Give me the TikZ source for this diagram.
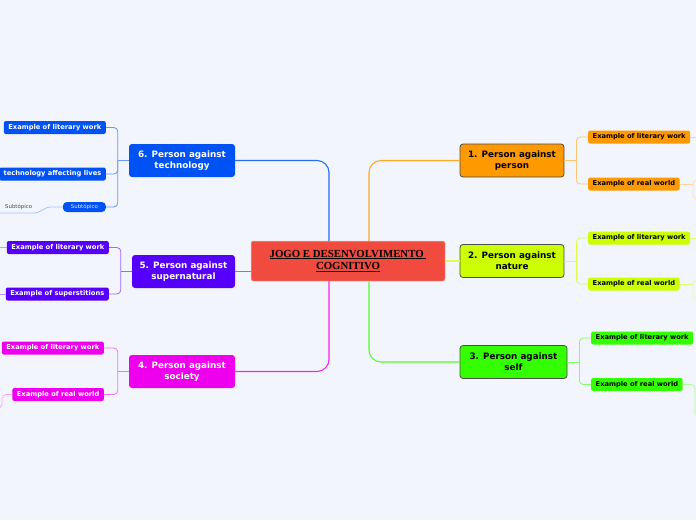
\documentclass[tikz,border=0pt]{standalone}
\usepackage{fontspec}
\setmainfont{DejaVu Sans}
\newfontfamily\titlefont{Liberation Serif}
\usepackage{tikz}
\usetikzlibrary{calc,positioning}
\usepackage{xcolor}
\definecolor{mapbg}{RGB}{243,245,253}
\definecolor{rootred}{RGB}{240,75,62}
\definecolor{personorange}{RGB}{255,153,0}
\definecolor{naturelime}{RGB}{204,255,0}
\definecolor{selfgreen}{RGB}{51,255,0}
\definecolor{societymag}{RGB}{238,0,238}
\definecolor{superpurple}{RGB}{85,0,255}
\definecolor{techblue}{RGB}{0,82,245}
\tikzset{
  root/.style={rounded corners=2pt,fill=rootred,draw=rootred!40!white,line width=0.5pt,
    minimum width=194pt,minimum height=40pt,inner sep=0pt,align=center,
    font=\titlefont\bfseries\fontsize{10.8}{13}\selectfont},
  topic/.style={rounded corners=3pt,minimum width=104pt,minimum height=33pt,inner sep=0pt,
    align=center,font=\bfseries\fontsize{8.8}{11}\selectfont},
  darktopic/.style={topic,draw=black!70,line width=0.8pt,text=black},
  lighttopic/.style={topic,text=white},
  subbox/.style={rounded corners=2pt,minimum height=13pt,inner ysep=0pt,inner xsep=4.5pt,
    font=\bfseries\fontsize{6.7}{8}\selectfont},
  branch/.style={line width=1.1pt,rounded corners=12pt},
  twig/.style={line width=0.8pt,rounded corners=4pt}
}

\begin{document}
\begin{tikzpicture}[scale=1.0,x=1pt,y=-1pt]
  \fill[mapbg] (0,0) rectangle (696,520);
  \useasboundingbox (0,0) rectangle (696,520);
  \clip (0,0) rectangle (696,520);

  \node[root] (root) at (348,261) {\underline{JOGO E DESENVOLVIMENTO\ }\\\underline{COGNITIVO}};

  \node[darktopic,fill=personorange] (t1) at (512,160.5) {1. Person against\\person};
  \node[darktopic,fill=naturelime] (t2) at (512,261) {2. Person against\\nature};
  \node[darktopic,fill=selfgreen,minimum width=107pt] (t3) at (513.5,362) {3. Person against\\self};
  \node[lighttopic,fill=societymag,minimum width=106pt] (t4) at (182,371.5) {4. Person against\\society};
  \node[lighttopic,fill=superpurple,minimum width=103pt] (t5) at (183.5,271.5) {5. Person against\\supernatural};
  \node[lighttopic,fill=techblue,minimum width=106pt] (t6) at (182,160.5) {6. Person against\\technology};

  \draw[branch,personorange!85] ([xshift=21pt]root.north) |- (t1.west);
  \draw[branch,naturelime!70] (root.east) -- (t2.west);
  \draw[branch,selfgreen!85] ([xshift=21pt]root.south) |- (t3.west);
  \draw[branch,societymag!85] ([xshift=-19pt]root.south) |- (t4.east);
  \draw[branch,superpurple!60] (t5.east) -- (t5.east -| root.west);
  \draw[branch,techblue!85] ([xshift=-19pt]root.north) |- (t6.east);

  % person
  \node[subbox,fill=personorange,anchor=west] (s11) at (588,137) {Example of literary work};
  \node[subbox,fill=personorange,anchor=west] (s12) at (588,184) {Example of real world};
  \draw[twig,personorange!55] (t1.east) -- ++(12,0) coordinate (j1);
  \draw[twig,personorange!55] (j1) |- (s11.west);
  \draw[twig,personorange!55] (j1) |- (s12.west);
  \coordinate (e11) at (696,137);
  \coordinate (e12) at (693,184);
  \draw[twig,personorange!40] (s11.east) -- (e11);
  \draw[twig,personorange!40] (s12.east) -- (e12);
  \draw[twig,personorange!30] (696,180) -- (693,180) -- (693,199) -- (696,199);

  % nature
  \node[subbox,fill=naturelime,anchor=west] (s21) at (588,238) {Example of literary work};
  \node[subbox,fill=naturelime,anchor=west] (s22) at (588,284) {Example of real world};
  \draw[twig,naturelime!70] (t2.east) -- ++(12,0) coordinate (j2);
  \draw[twig,naturelime!70] (j2) |- (s21.west);
  \draw[twig,naturelime!70] (j2) |- (s22.west);
  \coordinate (e21) at (696,238);
  \coordinate (e22) at (693,284);
  \draw[twig,naturelime!55] (s21.east) -- (e21);
  \draw[twig,naturelime!55] (s22.east) -- (e22);
  \draw[twig,naturelime!40] (696,280) -- (693,280) -- (693,300) -- (696,300);

  % self
  \node[subbox,fill=selfgreen,anchor=west] (s31) at (591,338) {Example of literary work};
  \node[subbox,fill=selfgreen,anchor=west] (s32) at (591,384.5) {Example of real world};
  \draw[twig,selfgreen!60] (t3.east) -- ++(12,0) coordinate (j3);
  \draw[twig,selfgreen!60] (j3) |- (s31.west);
  \draw[twig,selfgreen!60] (j3) |- (s32.west);
  \coordinate (e32) at (695,415);
  \draw[twig,selfgreen!40] (s32.east) -| (e32);

  % society
  \node[subbox,fill=societymag,text=white,anchor=east] (s41) at (104,348) {Example of literary work};
  \node[subbox,fill=societymag,text=white,anchor=east] (s42) at (104,394.5) {Example of real world};
  \draw[twig,societymag!55] (t4.west) -- ++(-11,0) coordinate (j4);
  \draw[twig,societymag!55] (j4) |- (s41.east);
  \draw[twig,societymag!55] (j4) |- (s42.east);
  \coordinate (e42) at (0,408);
  \draw[twig,societymag!35] (s42.west) -- (2,394.5) |- (e42);

  % supernatural
  \node[subbox,fill=superpurple,text=white,anchor=east] (s51) at (109,247.5) {Example of literary work};
  \node[subbox,fill=superpurple,text=white,anchor=east] (s52) at (109,294) {Example of superstitions};
  \draw[twig,superpurple!60] (t5.west) -- ++(-11,0) coordinate (j5);
  \draw[twig,superpurple!60] (j5) |- (s51.east);
  \draw[twig,superpurple!60] (j5) |- (s52.east);
  \coordinate (e51) at (0,247.5);
  \coordinate (e52) at (0,294);
  \draw[twig,superpurple!40] (s51.west) -- (e51);
  \draw[twig,superpurple!40] (s52.west) -- (e52);

  % technology
  \node[subbox,fill=techblue,text=white,anchor=east] (s61) at (106,127.5) {Example of literary work};
  \node[subbox,fill=techblue,text=white,anchor=east] (s62) at (106,174) {technology affecting lives};
  \node[subbox,fill=techblue,text=white!85!techblue,anchor=east,minimum height=10pt,inner xsep=8pt,
    rounded corners=4pt,font=\fontsize{5.4}{6}\selectfont] (s63) at (106,207) {Subtópico};
  \draw[twig,techblue!60] (t6.west) -- ++(-11,0) coordinate (j6);
  \draw[twig,techblue!60] (j6) |- (s61.east);
  \draw[twig,techblue!60] (j6) |- (s62.east);
  \draw[twig,techblue!60] (j6) |- (s63.east);
  \node[text=black!70,font=\fontsize{5.4}{6}\selectfont,anchor=west,inner sep=0pt] (s631) at (5,207) {Subtópico};
  \coordinate (e63) at (0,213);
  \draw[twig,techblue!35,rounded corners=2pt] (s63.west) -- (48,207) -- (37,213) -- (e63);
\end{tikzpicture}
\end{document}
